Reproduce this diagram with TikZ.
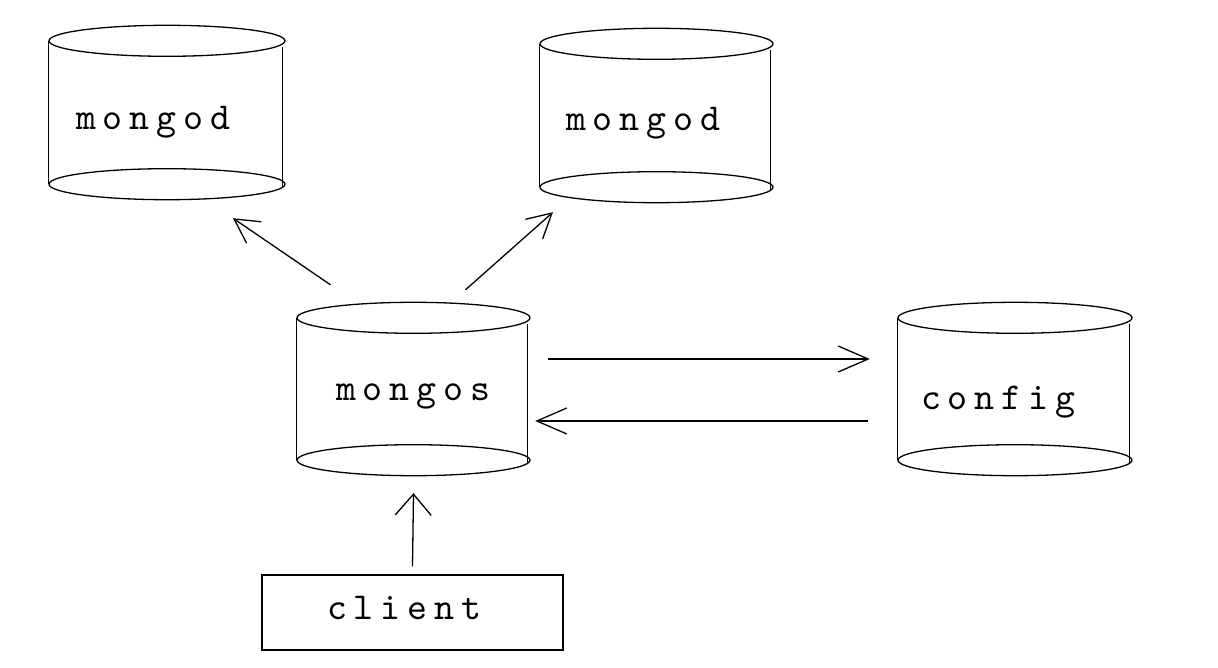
\documentclass[tikz,border=0pt]{standalone}
\usepackage{fontspec}
\newfontfamily\diagfont{lmmono10-regular.otf}[LetterSpace=18]
\usetikzlibrary{arrows.meta}
\newcommand\mycyl[2]{%
  \draw[ln] (#1.north) ellipse[x radius=#2, y radius=15.5pt];
  \draw[ln] (#1.south) ellipse[x radius=#2, y radius=15.5pt];
  \draw[ln] (#1.north west) -- (#1.south west);
  \draw[ln] ([xshift=-3pt,yshift=-6pt]#1.north east) -- ([xshift=-3pt,yshift=-4pt]#1.south east);
}
\begin{document}
\begin{tikzpicture}[x=1pt,y=-1pt,
  ln/.style={line width=1.3pt, black},
  body/.style={draw=none, inner sep=0pt, minimum height=143pt},
  lbl/.style={inner sep=0pt, font=\fontsize{38}{44}\diagfont},
  box/.style={draw, line width=1.3pt, inner sep=0pt, minimum width=301pt, minimum height=75pt},
  arrH/.style={ln, -{Straight Barb[length=30pt,width=26pt,line width=1.3pt]}},
  arrV/.style={ln, -{Straight Barb[length=21pt,width=36pt,line width=1.3pt]}},
  arrD/.style={ln, -{Straight Barb[length=24pt,width=26pt,line width=1.3pt]}}]
\useasboundingbox (0,0) rectangle (1218,668);
\fill[white] (0,0) rectangle (1218,668);

\node[body, minimum width=236pt] (mA) at (167,112.5) {};
\node[body, minimum width=233pt] (mB) at (656.5,115.5) {};
\node[body, minimum width=233pt, minimum height=142pt] (ms) at (413.5,389) {};
\node[body, minimum width=234pt, minimum height=142pt] (cf) at (1015,389) {};
\mycyl{mA}{118pt}
\mycyl{mB}{116.5pt}
\mycyl{ms}{116.5pt}
\mycyl{cf}{117pt}

\node[lbl] (mAt) at (153,122) {mongod};
\node[lbl] (mBt) at (643,123) {mongod};
\node[lbl] (mst) at (413,396) {mongos};
\node[lbl] (cft) at (998,402) {config};

\node[box] (cl) at (412.5,612.5) {};
\node[lbl] (clt) at (404,608) {client};

\draw[arrV] ([yshift=8pt]cl.north) -- ([yshift=-33pt]ms.south);
\draw[arrH] ([xshift=18pt,yshift=30pt]ms.east) -- ([xshift=-28pt,yshift=30pt]cf.west);
\draw[arrH] ([xshift=-30pt,yshift=-32pt]cf.west) -- ([xshift=5pt,yshift=-32pt]ms.east);
\draw[arrD] ([xshift=-83pt,yshift=33pt]ms.north) -- ([xshift=66pt,yshift=-34pt]mA.south);
\draw[arrD] ([xshift=52pt,yshift=28pt]ms.north) -- ([xshift=-103.5pt,yshift=-25pt]mB.south);
\end{tikzpicture}
\end{document}
